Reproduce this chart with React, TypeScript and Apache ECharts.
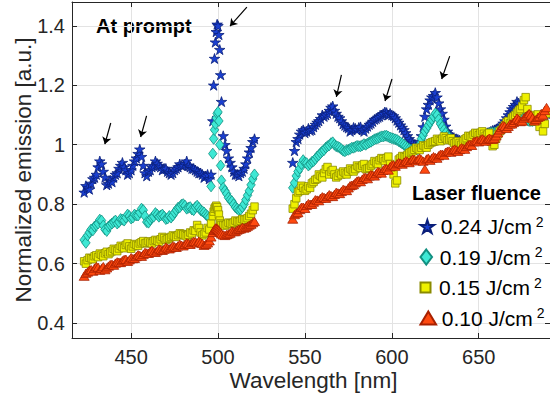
import React, { useEffect, useRef } from "react";
import * as echarts from "echarts";

// ---------- data ----------
// wavelength grid A (odd nm + finer steps around the 500 nm line) and grid B (even nm)
const WL_LEFT_A = [
  423, 425, 427, 429, 431, 433, 435, 437, 439, 441, 443, 445, 447, 449, 451, 453, 455, 457, 459, 461,
  463, 465, 467, 469, 471, 473, 475, 477, 479, 481, 483, 485, 487, 489, 491, 493, 495,
  496, 497, 497.5, 498, 498.5, 499, 499.5, 500, 500.5, 501, 501.5, 502, 503,
  505, 507, 509, 511, 513, 515, 517, 519, 521,
];
const WL_RIGHT_A = [
  543, 545, 547, 549, 551, 553, 555, 557, 559, 561, 563, 565, 567, 569, 571, 573, 575, 577, 579, 581,
  583, 585, 587, 589, 591, 593, 595, 597, 599, 601, 603, 605, 607, 609, 611, 613, 615, 617, 619, 621,
  623, 625, 627, 629, 631, 633, 635, 637, 639, 641, 643, 645, 647, 649, 651, 653, 655, 657, 659, 661,
  663, 665, 667, 669, 671, 673, 675, 677, 679, 681, 683, 685, 687, 689,
];
const WL_LEFT_B = [
  424, 426, 428, 430, 432, 434, 436, 438, 440, 442, 444, 446, 448, 450, 452, 454, 456, 458, 460, 462,
  464, 466, 468, 470, 472, 474, 476, 478, 480, 482, 484, 486, 488, 490, 492, 494,
  504, 506, 508, 510, 512, 514, 516, 518, 520,
];
const WL_RIGHT_B = [
  544, 546, 548, 550, 552, 554, 556, 558, 560, 562, 564, 566, 568, 570, 572, 574, 576, 578, 580, 582,
  584, 586, 588, 590, 592, 594, 596, 598, 600, 602, 604, 606, 608, 610, 612, 614, 616, 618, 620, 622,
  624, 626, 628, 630, 632, 634, 636, 638, 640, 642, 644, 646, 648, 650, 652, 654, 656, 658, 660, 662,
  664, 666, 668, 670, 672, 674, 676, 678, 680, 682, 684, 686, 688,
];

// 0.24 J/cm2
const BLUE_LEFT_A = [
  0.84, 0.855, 0.87, 0.89, 0.925, 0.935, 0.89, 0.87, 0.875, 0.9, 0.92, 0.94, 0.915, 0.905, 0.93, 0.955, 0.985, 0.93, 0.895, 0.915,
  0.93, 0.937, 0.925, 0.92, 0.91, 0.9, 0.915, 0.925, 0.93, 0.935, 0.93, 0.92, 0.915, 0.905, 0.9, 0.895, 0.885,
  0.9, 1.08, 1.2, 1.29, 1.345, 1.38, 1.405, 1.4, 1.37, 1.32, 1.235, 1.145, 1.03,
  0.98, 0.94, 0.91, 0.9, 0.905, 0.92, 0.955, 0.99, 1.02,
];
const BLUE_RIGHT_A = [
  0.94, 1.01, 1.035, 1.05, 1.045, 1.048, 1.06, 1.075, 1.088, 1.095, 1.105, 1.125, 1.115, 1.095, 1.08, 1.065, 1.056, 1.05, 1.055, 1.058,
  1.05, 1.055, 1.068, 1.078, 1.088, 1.095, 1.104, 1.108, 1.105, 1.097, 1.082, 1.066, 1.05, 1.03, 1.012, 1.0, 0.994, 1.03, 1.095, 1.135,
  1.16, 1.175, 1.14, 1.105, 1.062, 1.035, 1.025, 1.02, 1.015, 1.01, 1.015, 1.02, 1.025, 1.03, 1.035, 1.035, 1.04, 1.045, 1.05, 1.055,
  1.065, 1.08, 1.1, 1.12, 1.135, 1.14, 1.12, 1.1, 1.09, 1.085, 1.09, 1.095, 1.1, 1.105,
];
const BLUE_LEFT_B = [
  0.862, 0.85, 0.885, 0.9, 0.945, 0.91, 0.865, 0.88, 0.89, 0.905, 0.93, 0.925, 0.9, 0.915, 0.945, 0.97, 0.96, 0.905, 0.91, 0.925,
  0.945, 0.93, 0.915, 0.92, 0.905, 0.905, 0.92, 0.935, 0.93, 0.945, 0.925, 0.92, 0.91, 0.905, 0.89, 0.9,
  1.0, 0.955, 0.925, 0.9, 0.895, 0.91, 0.935, 0.975, 1.01,
];
const BLUE_RIGHT_B = [
  0.98, 1.02, 1.045, 1.04, 1.055, 1.05, 1.068, 1.08, 1.1, 1.1, 1.115, 1.13, 1.105, 1.09, 1.07, 1.06, 1.045, 1.058, 1.05, 1.06,
  1.045, 1.062, 1.072, 1.085, 1.092, 1.1, 1.11, 1.1, 1.1, 1.09, 1.075, 1.058, 1.04, 1.02, 1.005, 0.99, 1.01, 1.06, 1.12, 1.15,
  1.165, 1.16, 1.12, 1.085, 1.045, 1.03, 1.02, 1.018, 1.012, 1.012, 1.018, 1.022, 1.028, 1.032, 1.033, 1.038, 1.042, 1.048, 1.052, 1.06,
  1.072, 1.09, 1.11, 1.128, 1.145, 1.13, 1.11, 1.095, 1.088, 1.086, 1.092, 1.098, 1.102,
];

// 0.19 J/cm2
const CYAN_LEFT_A = [
  0.68, 0.695, 0.715, 0.725, 0.735, 0.745, 0.715, 0.725, 0.735, 0.745, 0.74, 0.748, 0.755, 0.76, 0.755, 0.762, 0.772, 0.78, 0.74, 0.748,
  0.758, 0.765, 0.762, 0.758, 0.752, 0.755, 0.772, 0.788, 0.798, 0.795, 0.788, 0.782, 0.79, 0.788, 0.776, 0.765, 0.755,
  0.86, 0.97, 1.02, 1.05, 1.07, 1.09, 1.105, 1.11, 1.08, 1.0, 0.93, 0.88, 0.855,
  0.835, 0.815, 0.8, 0.785, 0.782, 0.8, 0.83, 0.865, 0.9,
];
const CYAN_RIGHT_A = [
  0.855, 0.895, 0.92, 0.948, 0.938, 0.935, 0.945, 0.96, 0.972, 0.982, 0.995, 1.005, 1.0, 0.993, 0.985, 0.978, 0.983, 0.99, 0.993, 0.995,
  0.998, 1.0, 1.008, 1.014, 1.02, 1.025, 1.028, 1.03, 1.024, 1.02, 1.016, 1.008, 1.0, 0.99, 0.983, 0.982, 0.985, 1.02, 1.045, 1.065,
  1.085, 1.105, 1.085, 1.06, 1.04, 1.025, 1.015, 1.005, 1.0, 1.005, 1.01, 1.015, 1.02, 1.025, 1.03, 1.03, 1.035, 1.04, 1.04, 1.045,
  1.05, 1.06, 1.075, 1.09, 1.105, 1.11, 1.095, 1.085, 1.08, 1.08, 1.085, 1.09, 1.095, 1.1,
];
const CYAN_LEFT_B = [
  0.67, 0.705, 0.712, 0.73, 0.748, 0.728, 0.71, 0.73, 0.74, 0.735, 0.75, 0.745, 0.765, 0.752, 0.765, 0.762, 0.785, 0.76, 0.738, 0.755,
  0.77, 0.758, 0.765, 0.75, 0.76, 0.762, 0.78, 0.79, 0.8, 0.785, 0.79, 0.78, 0.795, 0.78, 0.772, 0.76,
  0.845, 0.822, 0.81, 0.79, 0.78, 0.79, 0.815, 0.845, 0.885,
];
const CYAN_RIGHT_B = [
  0.872, 0.91, 0.935, 0.94, 0.93, 0.942, 0.952, 0.965, 0.978, 0.99, 0.998, 1.008, 0.995, 0.99, 0.98, 0.982, 0.986, 0.99, 0.996, 0.995,
  1.002, 1.004, 1.01, 1.018, 1.022, 1.028, 1.03, 1.027, 1.022, 1.018, 1.012, 1.004, 0.995, 0.986, 0.98, 0.984, 1.0, 1.032, 1.055, 1.075,
  1.095, 1.1, 1.07, 1.05, 1.03, 1.02, 1.01, 1.002, 1.002, 1.008, 1.012, 1.018, 1.022, 1.028, 1.028, 1.032, 1.038, 1.04, 1.042, 1.048,
  1.055, 1.068, 1.082, 1.098, 1.108, 1.1, 1.09, 1.082, 1.08, 1.082, 1.088, 1.092, 1.098,
];

// 0.15 J/cm2
const YELLOW_LEFT_A = [
  0.608, 0.612, 0.618, 0.625, 0.622, 0.63, 0.635, 0.632, 0.642, 0.646, 0.651, 0.656, 0.663, 0.658, 0.658, 0.663, 0.668, 0.676, 0.67, 0.671,
  0.676, 0.677, 0.682, 0.686, 0.683, 0.69, 0.692, 0.696, 0.7, 0.695, 0.697, 0.702, 0.71, 0.72, 0.695, 0.705, 0.715,
  0.735, 0.76, 0.775, 0.785, 0.79, 0.795, 0.79, 0.78, 0.765, 0.745, 0.735, 0.73, 0.73,
  0.732, 0.736, 0.738, 0.742, 0.744, 0.748, 0.753, 0.768, 0.792,
];
const YELLOW_RIGHT_A = [
  0.785, 0.82, 0.845, 0.855, 0.85, 0.855, 0.875, 0.885, 0.895, 0.905, 0.925, 0.91, 0.9, 0.895, 0.9, 0.905, 0.91, 0.915, 0.918, 0.925,
  0.93, 0.918, 0.922, 0.935, 0.94, 0.948, 0.952, 0.955, 0.935, 0.9, 0.88, 0.955, 0.96, 0.966, 0.975, 0.983, 0.986, 0.99, 0.995, 1.0,
  1.008, 1.012, 1.016, 1.02, 1.022, 1.018, 1.012, 1.008, 1.006, 1.012, 1.022, 1.028, 1.034, 1.038, 1.04, 1.037, 1.034, 1.01, 1.0, 1.035,
  1.05, 1.065, 1.08, 1.09, 1.1, 1.115, 1.13, 1.16, 1.09, 1.085, 1.095, 1.06, 1.045, 1.105,
];
const YELLOW_LEFT_B = [
  0.6, 0.62, 0.615, 0.628, 0.634, 0.625, 0.64, 0.638, 0.65, 0.642, 0.66, 0.652, 0.668, 0.65, 0.666, 0.66, 0.672, 0.668, 0.675, 0.668,
  0.68, 0.674, 0.69, 0.68, 0.686, 0.695, 0.69, 0.702, 0.698, 0.692, 0.705, 0.712, 0.73, 0.705, 0.7, 0.72,
  0.728, 0.738, 0.734, 0.745, 0.74, 0.75, 0.748, 0.76, 0.78,
];
const YELLOW_RIGHT_B = [
  0.8, 0.84, 0.862, 0.845, 0.86, 0.87, 0.882, 0.9, 0.89, 0.918, 0.9, 0.915, 0.89, 0.905, 0.91, 0.9, 0.92, 0.91, 0.93, 0.922,
  0.935, 0.92, 0.93, 0.945, 0.935, 0.955, 0.945, 0.96, 0.92, 0.87, 0.95, 0.962, 0.958, 0.972, 0.978, 0.99, 0.982, 0.998, 0.99, 1.005,
  1.01, 1.02, 1.012, 1.028, 1.015, 1.022, 1.005, 1.012, 1.0, 1.018, 1.03, 1.024, 1.04, 1.032, 1.045, 1.03, 1.04, 0.995, 1.02, 1.045,
  1.058, 1.075, 1.072, 1.095, 1.108, 1.12, 1.15, 1.12, 1.1, 1.078, 1.102, 1.08, 1.07,
];

// 0.10 J/cm2
const RED_LEFT_A = [
  0.558, 0.572, 0.58, 0.585, 0.588, 0.584, 0.58, 0.592, 0.598, 0.602, 0.605, 0.61, 0.615, 0.613, 0.617, 0.624, 0.628, 0.631, 0.636, 0.642,
  0.64, 0.643, 0.647, 0.649, 0.652, 0.654, 0.657, 0.66, 0.662, 0.665, 0.668, 0.671, 0.674, 0.676, 0.668, 0.665, 0.677,
  0.69, 0.705, 0.712, 0.716, 0.72, 0.72, 0.718, 0.715, 0.712, 0.708, 0.705, 0.7, 0.697,
  0.698, 0.703, 0.708, 0.713, 0.717, 0.72, 0.726, 0.733, 0.742,
];
const RED_RIGHT_A = [
  0.75, 0.77, 0.782, 0.79, 0.796, 0.8, 0.807, 0.814, 0.82, 0.823, 0.826, 0.829, 0.833, 0.838, 0.843, 0.848, 0.855, 0.864, 0.872, 0.879,
  0.884, 0.89, 0.895, 0.898, 0.903, 0.908, 0.914, 0.92, 0.926, 0.932, 0.936, 0.938, 0.941, 0.944, 0.947, 0.95, 0.951, 0.95, 0.918, 0.955,
  0.955, 0.957, 0.963, 0.968, 0.975, 0.979, 0.982, 0.983, 0.984, 0.988, 0.994, 1.002, 1.01, 1.014, 1.017, 1.017, 1.018, 1.02, 1.022, 1.04,
  1.058, 1.062, 1.062, 1.07, 1.082, 1.085, 1.08, 1.095, 1.105, 1.09, 1.085, 1.095, 1.1, 1.125,
];
const RED_LEFT_B = [
  0.568, 0.578, 0.575, 0.59, 0.578, 0.59, 0.586, 0.597, 0.595, 0.606, 0.604, 0.614, 0.608, 0.62, 0.618, 0.63, 0.625, 0.638, 0.635, 0.645,
  0.638, 0.65, 0.645, 0.656, 0.65, 0.66, 0.655, 0.665, 0.66, 0.67, 0.665, 0.675, 0.67, 0.672, 0.662, 0.67,
  0.695, 0.7, 0.71, 0.708, 0.716, 0.722, 0.722, 0.73, 0.738,
];
const RED_RIGHT_B = [
  0.765, 0.772, 0.79, 0.786, 0.802, 0.8, 0.815, 0.812, 0.825, 0.82, 0.832, 0.826, 0.84, 0.836, 0.85, 0.846, 0.862, 0.866, 0.878, 0.876,
  0.89, 0.886, 0.9, 0.895, 0.91, 0.905, 0.92, 0.915, 0.932, 0.928, 0.94, 0.935, 0.946, 0.94, 0.952, 0.946, 0.955, 0.945, 0.952, 0.948,
  0.96, 0.955, 0.968, 0.965, 0.978, 0.975, 0.985, 0.978, 0.99, 0.985, 1.0, 0.998, 1.012, 1.01, 1.02, 1.012, 1.022, 1.018, 1.03, 1.05,
  1.065, 1.055, 1.07, 1.075, 1.09, 1.078, 1.09, 1.1, 1.1, 1.08, 1.092, 1.105, 1.115,
];

const SERIES_NAMES = ["0.24 J/cm2", "0.19 J/cm2", "0.15 J/cm2", "0.10 J/cm2"];
const X_TICKS = [450, 500, 550, 600, 650];
const Y_TICKS = [0.4, 0.6, 0.8, 1.0, 1.2, 1.4];
const X_RANGE = [416, 691];
const Y_RANGE = [0.35, 1.48];

// arrows: [x1, y1, x2, y2] (tail -> head) in data units
const ARROWS = [
  [438.3, 1.073, 434.9, 1.002],
  [458.9, 1.097, 455.5, 1.026],
  [516.6, 1.463, 506.9, 1.399],
  [571.0, 1.235, 568.1, 1.161],
  [600.1, 1.221, 596.1, 1.147],
  [633.3, 1.298, 628.7, 1.221],
];

// ---------- styling ----------
const FONT = "Liberation Sans, Arial, Helvetica, sans-serif";
const AX = "#262626";
const STAR = "path://M50,0 L61.23,34.55 L97.55,34.55 L68.17,55.9 L79.39,90.45 L50,69.1 L20.61,90.45 L31.83,55.9 L2.45,34.55 L38.77,34.55 Z";
const DIAMOND = "path://M5,0L10,6.5L5,13L0,6.5Z";
const SQUARE = "path://M0,0H10V10H0Z";
const TRIANGLE = "path://M6,0L12,10L0,10Z";

const WL_A = [...WL_LEFT_A, ...WL_RIGHT_A];
const WL_B = [...WL_LEFT_B, ...WL_RIGHT_B];
const pairs = (la: number[], ra: number[], lb: number[], rb: number[]) => {
  const a = [...la, ...ra];
  const b = [...lb, ...rb];
  const pts = [...WL_A.map((w, i) => [w, a[i]]), ...WL_B.map((w, i) => [w, b[i]])];
  return pts.sort((p, q) => p[0] - q[0]);
};

const STYLES = [
  { sym: STAR, size: 10.5, color: "#1a3fd0", border: "#0a1f7a", lw: 17, lh: 13 },
  { sym: DIAMOND, size: 11, color: "#3ee8d4", border: "#128f80", lw: 17, lh: 15 },
  { sym: SQUARE, size: 7.5, color: "#eef000", border: "#8a8a00", lw: 17, lh: 10 },
  { sym: TRIANGLE, size: 10, color: "#ff4a10", border: "#a82000", lw: 17, lh: 13 },
];
const DATA = [
  pairs(BLUE_LEFT_A, BLUE_RIGHT_A, BLUE_LEFT_B, BLUE_RIGHT_B),
  pairs(CYAN_LEFT_A, CYAN_RIGHT_A, CYAN_LEFT_B, CYAN_RIGHT_B),
  pairs(YELLOW_LEFT_A, YELLOW_RIGHT_A, YELLOW_LEFT_B, YELLOW_RIGHT_B),
  pairs(RED_LEFT_A, RED_RIGHT_A, RED_LEFT_B, RED_RIGHT_B),
];

const LEGEND_CY = [226.5, 257, 287.5, 318];

function buildOption(): any {
  const axisLine = { show: true, onZero: false, lineStyle: { color: AX, width: 1 } };
  const tickX = { show: true, inside: true, length: 5, customValues: X_TICKS, lineStyle: { color: AX } };
  const tickY = { show: true, inside: true, length: 5, customValues: Y_TICKS, lineStyle: { color: AX } };

  const series: any[] = SERIES_NAMES.map((name, i) => ({
    name,
    type: "scatter",
    xAxisIndex: 0,
    yAxisIndex: 0,
    data: DATA[i],
    symbol: STYLES[i].sym,
    symbolSize: STYLES[i].size,
    symbolKeepAspect: true,
    itemStyle: { color: STYLES[i].color, borderColor: STYLES[i].border, borderWidth: 0.8, opacity: 1 },
    emphasis: { disabled: true },
    z: 2 + i,
  }));
  series[3].markLine = {
    silent: true,
    symbol: ["none", "arrow"],
    symbolSize: 7,
    lineStyle: { color: "#000", width: 1.2, type: "solid" },
    label: { show: false },
    emphasis: { disabled: true },
    data: ARROWS.map((a) => [{ coord: [a[0], a[1]] }, { coord: [a[2], a[3]] }]),
  };

  const legends = SERIES_NAMES.map((name, i) => ({
    data: [{ name, icon: STYLES[i].sym }],
    orient: "vertical",
    left: 428 - STYLES[i].lw / 2,
    top: LEGEND_CY[i] - 12,
    padding: 0,
    itemWidth: STYLES[i].lw,
    itemHeight: STYLES[i].lh,
    symbolKeepAspect: true,
    selectedMode: false,
    formatter: (n: string) => `{a|${n.slice(0, -1)}}{s|${n.slice(-1)}}`,
    textStyle: {
      color: "#000",
      fontFamily: FONT,
      rich: {
        a: { fontSize: 21, lineHeight: 24, fontFamily: FONT, color: "#000" },
        s: { fontSize: 14, lineHeight: 7, verticalAlign: "top", padding: [0, 0, 0, 4], fontFamily: FONT, color: "#000" },
      },
    },
  }));

  return {
    animation: false,
    backgroundColor: "#ffffff",
    grid: { left: 72, right: -3, top: 2, bottom: 62, containLabel: false },
    xAxis: [
      {
        type: "value",
        min: X_RANGE[0],
        max: X_RANGE[1],
        position: "bottom",
        axisLine,
        axisTick: tickX,
        axisLabel: {
          customValues: X_TICKS,
          color: AX,
          fontSize: 20,
          fontFamily: FONT,
          margin: 9,
        },
        splitLine: { show: true, lineStyle: { color: "#e3e3e3", width: 1 } },
      },
      {
        type: "value",
        min: X_RANGE[0],
        max: X_RANGE[1],
        position: "top",
        axisLine,
        axisTick: tickX,
        axisLabel: { show: false },
        splitLine: { show: false },
      },
    ],
    yAxis: [
      {
        type: "value",
        min: Y_RANGE[0],
        max: Y_RANGE[1],
        position: "left",
        axisLine,
        axisTick: tickY,
        axisLabel: {
          customValues: Y_TICKS,
          color: AX,
          fontSize: 20,
          fontFamily: FONT,
          margin: 7,
          formatter: (v: number) => String(Math.round(v * 10) / 10),
        },
        splitLine: { show: true, lineStyle: { color: "#e3e3e3", width: 1 } },
      },
      {
        type: "value",
        min: Y_RANGE[0],
        max: Y_RANGE[1],
        position: "right",
        axisLine,
        axisTick: tickY,
        axisLabel: { show: false },
        splitLine: { show: false },
      },
    ],
    legend: legends,
    graphic: [
      {
        type: "text",
        x: 313.5,
        y: 380.5,
        style: { text: "Wavelength [nm]", fontSize: 22.5, fontFamily: FONT, fill: AX, align: "center", verticalAlign: "middle" },
      },
      {
        type: "text",
        x: 23.7,
        y: 170,
        rotation: Math.PI / 2,
        style: { text: "Normalized emission [a.u.]", fontSize: 22.5, fontFamily: FONT, fill: AX, align: "center", verticalAlign: "middle" },
      },
      {
        type: "text",
        x: 96,
        y: 26,
        style: { text: "At prompt", fontSize: 20, fontWeight: "bold", fontFamily: FONT, fill: "#000", align: "left", verticalAlign: "middle" },
      },
      {
        type: "text",
        x: 412,
        y: 193,
        style: { text: "Laser fluence", fontSize: 20, fontWeight: "bold", fontFamily: FONT, fill: "#000", align: "left", verticalAlign: "middle" },
      },
    ],
    series,
  };
}

export default function App() {
  const ref = useRef<HTMLDivElement>(null);
  useEffect(() => {
    if (!ref.current) return;
    const chart = echarts.init(ref.current, null, { renderer: "svg" });
    chart.setOption(buildOption());
    return () => chart.dispose();
  }, []);
  return (
    <div
      ref={ref}
      style={{ position: "absolute", left: 0, top: 0, width: 550, height: 400, background: "#fff" }}
    />
  );
}
